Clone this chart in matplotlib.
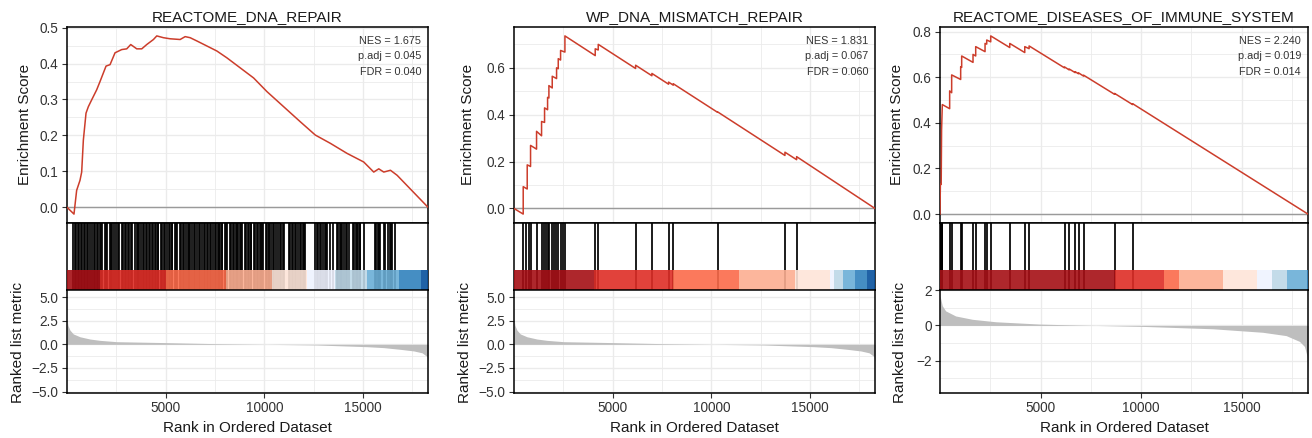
import matplotlib.pyplot as plt
from matplotlib.ticker import MultipleLocator

plt.rcParams['font.family'] = ['Liberation Sans', 'DejaVu Sans']

N_GENES = 18300
RED = '#CC3D2B'

titles = ['REACTOME_DNA_REPAIR', 'WP_DNA_MISMATCH_REPAIR', 'REACTOME_DISEASES_OF_IMMUNE_SYSTEM']
nes = ['1.675', '1.831', '2.240']
padj = ['0.045', '0.067', '0.019']
fdr = ['0.040', '0.060', '0.014']

# running enrichment score (rank, score)
es1_rank = [0, 355, 490, 660, 745, 830, 965, 1083, 1252, 1506, 1675, 1845, 1980, 2183, 2436,
            2775, 3029, 3232, 3536, 3790, 4044, 4383, 4552, 4890, 5228, 5736, 5990, 6244,
            6582, 7090, 7597, 8105, 8782, 9459, 10135, 10981, 11827, 12588, 13350, 14196,
            15042, 15550, 15804, 16058, 16397, 16735, 18300]
es1_val = [0.0, -0.019, 0.047, 0.075, 0.098, 0.187, 0.262, 0.280, 0.299, 0.327, 0.350, 0.374,
           0.393, 0.397, 0.430, 0.439, 0.441, 0.453, 0.441, 0.441, 0.453, 0.467, 0.477, 0.472,
           0.469, 0.467, 0.475, 0.472, 0.463, 0.449, 0.435, 0.416, 0.388, 0.360, 0.322, 0.280,
           0.238, 0.201, 0.178, 0.150, 0.126, 0.098, 0.107, 0.098, 0.103, 0.089, 0.0]

es2_rank = [0, 468, 468, 671, 671, 840, 840, 1144, 1144, 1398, 1398, 1550, 1550, 1703, 1703,
            1770, 1770, 1939, 1939, 2159, 2159, 2244, 2244, 2362, 2362, 2582, 2582, 4118, 4118,
            4271, 4271, 6165, 6165, 6991, 6991, 7837, 7837, 8073, 8073, 10321, 10321, 13735,
            13735, 14327, 14327, 18300]
es2_val = [0.0, -0.024, 0.093, 0.083, 0.186, 0.179, 0.269, 0.253, 0.329, 0.310, 0.371, 0.367,
           0.429, 0.421, 0.474, 0.471, 0.524, 0.514, 0.564, 0.554, 0.600, 0.596, 0.639, 0.633,
           0.674, 0.667, 0.736, 0.652, 0.681, 0.676, 0.700, 0.597, 0.611, 0.566, 0.576, 0.530,
           0.539, 0.526, 0.532, 0.410, 0.412, 0.226, 0.240, 0.208, 0.221, 0.0]

es3_rank = [0, 20, 60, 80, 116, 481, 481, 581, 581, 1029, 1029, 1079, 1079, 1643, 1643, 1776,
            1776, 2241, 2241, 2324, 2324, 2523, 2523, 3469, 3469, 4216, 4216, 4432, 4432, 6192,
            6192, 6424, 6424, 6723, 6723, 6889, 6889, 7138, 7138, 8682, 8682, 9578, 9578, 18300]
es3_val = [0.0, 0.13, 0.13, 0.37, 0.48, 0.462, 0.540, 0.532, 0.610, 0.590, 0.646, 0.643, 0.693,
           0.665, 0.700, 0.693, 0.734, 0.712, 0.748, 0.745, 0.763, 0.755, 0.781, 0.730, 0.748,
           0.708, 0.734, 0.725, 0.737, 0.641, 0.645, 0.632, 0.636, 0.620, 0.624, 0.615, 0.619,
           0.605, 0.609, 0.525, 0.529, 0.480, 0.484, 0.0]

# gene set hits (ranks)
hits1 = [321, 390, 470, 545, 620, 700, 775, 850, 930, 1005, 1080, 1150, 1285, 1360, 1440,
         1515, 1590, 1665, 1740, 1790, 1905, 1975, 2040, 2160, 2230, 2300, 2370, 2500, 2570,
         2640, 2790, 2860, 2935, 3010, 3085, 3160, 3230, 3300,
         3460, 3530, 3600, 3650, 3765, 3840, 3915, 3990, 4065, 4140, 4215, 4290, 4365, 4440,
         4515, 4590, 4630, 4750, 4820, 4900, 4960, 5090, 5160, 5230, 5300, 5345, 5460, 5530,
         5600, 5715, 5790, 5860, 5930, 6055, 6125, 6195, 6240, 6355, 6425, 6495, 6610, 6680,
         6750, 6825, 6950, 7020, 7095, 7170, 7240, 7290, 7405, 7480, 7555, 7630, 7705, 7780,
         7855, 7880, 8000, 8070, 8130, 8250, 8320, 8395, 8470, 8545, 8620, 8690, 8760, 8835,
         8895, 9015, 9090, 9165, 9240, 9310, 9350, 9460, 9535, 9610, 9685, 9760, 9835, 9905,
         9960, 10080, 10150, 10220, 10250, 10360, 10430, 10505, 10580, 10705, 10780, 10850,
         10925, 10990, 11250, 11320, 11395, 11470, 11545, 11620, 11690, 11805, 11880, 11955,
         12030, 12075,
         12590, 12660, 12705, 12820, 12890, 12955, 13070, 13140, 13180, 13350, 13468,
         13690, 13760, 13830, 13900, 13940, 14065, 14135, 14205, 14280,
         14490, 14560, 14630, 14700, 14770, 14840, 14870, 15042,
         15605, 15675, 15745, 15815, 15885, 16060, 16140, 16280, 16350, 16420, 16480, 16650]
hits2 = [468, 603, 739, 840, 1144, 1398, 1533, 1617, 1719, 1786, 1922, 2023, 2141, 2243, 2361,
         2496, 2598, 4118, 4271, 6180, 6991, 7837, 8073, 10321, 13735, 14327]
hits3 = [0, 20, 40, 60, 80, 100, 116, 481, 581, 1029, 1079, 1643, 1776, 2241, 2324, 2523,
         3469, 4216, 4432, 6192, 6424, 6723, 6889, 7138, 8682, 9578]

# colour band under the barcode
band_colors = ['#A50F15', '#DE2D26', '#FB6A4A', '#FCAE91', '#FEE5D9',
               '#EFF3FF', '#BDD7E7', '#6BAED6', '#3182BD', '#08519C']
band1_edges = [0, 1675, 5010, 8070, 10390, 12165, 13600, 15210, 16820, 17950, 18300]
band2_edges = [0, 4051, 8073, 11402, 14242, 16016, 16236, 16692, 17284, 17875, 18300]
band3_edges = [0, 8715, 11122, 11869, 14093, 15770, 16500, 17247, 18243, 18300]

# ranked list metric
metric_a_rank = [0, 50, 152, 321, 660, 1168, 1675, 2521, 5059, 7597, 10135, 12673, 15211,
                 16057, 16903, 17580, 18003, 18257, 18300]
metric_a_val = [2.75, 2.0, 1.5, 1.1, 0.8, 0.56, 0.42, 0.28, 0.18, 0.07, 0.0, -0.07, -0.25,
                -0.35, -0.53, -0.7, -0.9, -1.3, -1.85]
metric_b_rank = [0, 116, 282, 780, 1610, 2772, 4930, 6922, 10242, 13562, 16052, 17214, 17878,
                 18127, 18260, 18300]
metric_b_val = [1.7, 1.12, 0.83, 0.54, 0.35, 0.21, 0.08, 0.02, -0.06, -0.19, -0.39, -0.58,
                -0.91, -1.2, -1.78, -2.65]


fig = plt.figure(figsize=(13.12, 4.38), dpi=100)
W, H = 1312.0, 438.0


def box(left, top, right, bottom):
    return [left / W, 1 - bottom / H, (right - left) / W, (bottom - top) / H]


def style(ax):
    for s in ax.spines.values():
        s.set_color('black')
        s.set_linewidth(1.1)
    ax.tick_params(which='major', length=3.3, width=0.8, color='#333333',
                   labelsize=9.8, labelcolor='#333333', pad=2.8)
    ax.tick_params(which='minor', length=0)


def panel(left, right, i, es_rank, es_val, hits, edges, m_rank, m_val, es_step, m_step, m_lim,
          es_lab_x, m_lab_x):
    # enrichment score
    ax = fig.add_axes(box(left, 27, right, 223))
    ax.plot(es_rank, es_val, color=RED, lw=1.1, zorder=3)
    ax.axhline(0, color='#9A9A9A', lw=1.0, zorder=2)
    ax.set_xlim(1, N_GENES)
    ax.margins(y=0.05)
    ax.xaxis.set_major_locator(MultipleLocator(5000))
    ax.xaxis.set_minor_locator(MultipleLocator(2500))
    ax.yaxis.set_major_locator(MultipleLocator(es_step))
    ax.yaxis.set_minor_locator(MultipleLocator(es_step / 2))
    ax.grid(which='major', color='#EBEBEB', lw=1.0)
    ax.grid(which='minor', color='#EBEBEB', lw=0.6)
    ax.set_axisbelow(True)
    style(ax)
    ax.tick_params(axis='x', which='both', length=0, labelbottom=False)
    ax.set_title(titles[i], fontsize=11, pad=4.2, color='#1A1A1A')
    for k, txt in enumerate(['NES = ' + nes[i], 'p.adj = ' + padj[i], 'FDR = ' + fdr[i]]):
        ax.text(0.981, 0.929 - k * 0.079, txt, transform=ax.transAxes, ha='right',
                va='center', fontsize=7.8, color='#333333')

    # barcode with colour band
    bx = fig.add_axes(box(left, 223, right, 290))
    bx.vlines(hits, 0, 1, color='black', lw=1.25)
    lefts = edges[:-1]
    widths = [b - a for a, b in zip(edges[:-1], edges[1:])]
    bx.bar(lefts, 0.3, width=widths, bottom=0, align='edge', color=band_colors[:len(lefts)],
           alpha=0.9, lw=0, zorder=3)
    bx.set_xlim(1, N_GENES)
    bx.set_ylim(0, 1)
    bx.set_xticks([])
    bx.set_yticks([])
    style(bx)

    # ranked list metric
    mx = fig.add_axes(box(left, 290, right, 393))
    mx.fill_between(m_rank, 0, m_val, color='#BEBEBE', lw=0, zorder=2)
    mx.set_xlim(1, N_GENES)
    mx.set_ylim(*m_lim)
    mx.xaxis.set_major_locator(MultipleLocator(5000))
    mx.xaxis.set_minor_locator(MultipleLocator(2500))
    mx.yaxis.set_major_locator(MultipleLocator(m_step))
    mx.yaxis.set_minor_locator(MultipleLocator(m_step / 2))
    mx.grid(which='major', color='#EBEBEB', lw=1.0)
    mx.grid(which='minor', color='#EBEBEB', lw=0.6)
    mx.set_axisbelow(True)
    style(mx)

    fig.text(es_lab_x / W, 1 - 124 / H, 'Enrichment Score', rotation=90, ha='center',
             va='center', fontsize=11, color='#1A1A1A')
    fig.text(m_lab_x / W, 1 - 342 / H, 'Ranked list metric', rotation=90, ha='center',
             va='center', fontsize=11, color='#1A1A1A')
    fig.text((left + right) / 2 / W, 1 - 432 / H, 'Rank in Ordered Dataset', ha='center',
             va='baseline', fontsize=11, color='#1A1A1A')


panel(67, 428, 0, es1_rank, es1_val, hits1, band1_edges, metric_a_rank, metric_a_val,
      0.1, 2.5, (-5.15, 5.75), 25, 18.5)
panel(514, 875, 1, es2_rank, es2_val, hits2, band2_edges, metric_a_rank, metric_a_val,
      0.2, 2.5, (-5.15, 5.75), 468, 465)
panel(940, 1308, 2, es3_rank, es3_val, hits3, band3_edges, metric_b_rank, metric_b_val,
      0.2, 2.0, (-3.85, 2.02), 897, 900)

fig.savefig('out.png', dpi=100)
